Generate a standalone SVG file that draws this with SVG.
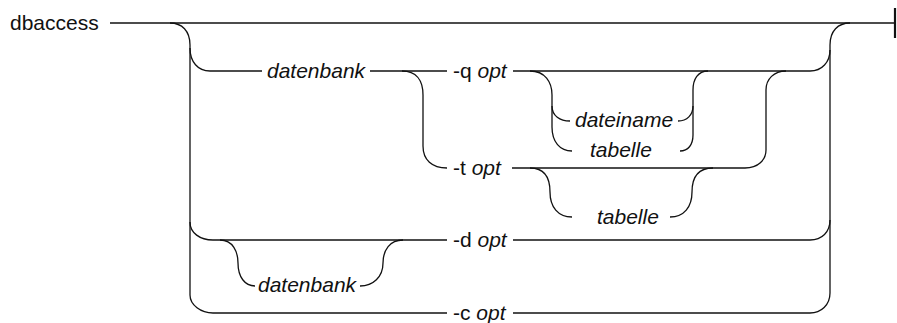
<svg xmlns="http://www.w3.org/2000/svg" width="897" height="323" viewBox="0 0 897 323">
  <style>
    .rail { fill: none; stroke: #111; stroke-width: 1.3; stroke-linecap: butt; }
    .end { fill: none; stroke: #111; stroke-width: 2.2; }
    .t { font-family: "Liberation Sans", Arial, Helvetica, sans-serif; font-size: 21px; fill: #111; }
    .i { font-style: italic; }
  </style>
  <rect width="897" height="323" fill="#fff"/>

  <!-- rails of the syntax diagram -->
  <g id="connectors">
    <!-- main line and end marker -->
    <path class="rail" d="M110,23 H895"/>
    <path class="end" d="M895,8 V38"/>

    <!-- outer left branch -->
    <path class="rail" d="M170,23 C182,23 190,31 190,45 V295 C190,305 201,313 213,313"/>
    <path class="rail" d="M190,48 C190,62 198,71 210,71"/>
    <path class="rail" d="M190,222 C190,233 200,240 213,240"/>

    <!-- outer right join -->
    <path class="rail" d="M850,23 C838,23 830,31 830,45 V293 C830,305 821,313 810,313"/>
    <path class="rail" d="M810,71 C822,71 830,62 830,50"/>
    <path class="rail" d="M810,240 C822,240 830,232 830,220"/>

    <!-- row: datenbank -q opt -->
    <path class="rail" d="M210,71 H262"/>
    <path class="rail" d="M370,71 H447"/>
    <path class="rail" d="M513,71 H810"/>

    <!-- branch to -t opt -->
    <path class="rail" d="M402,71 C416,71 423,80 423,95 V146 C423,160 432,168 447,168"/>
    <path class="rail" d="M512,168 H745"/>
    <path class="rail" d="M745,168 C758,168 766,160 766,150 V90 C766,79 774,71 786,71"/>

    <!-- optional dateiname / tabelle after -q opt -->
    <path class="rail" d="M530,71 C545,71 552,82 552,95 V127 C552,142 560,151 572,151"/>
    <path class="rail" d="M552,106 C552,116 560,121 570,121"/>
    <path class="rail" d="M708,71 C698,71 693,79 693,90 V135 C693,145 688,151 680,151"/>
    <path class="rail" d="M678,121 C687,121 693,115 693,106"/>

    <!-- optional tabelle after -t opt -->
    <path class="rail" d="M530,168 C545,168 550,178 550,192 C550,207 558,217 572,217"/>
    <path class="rail" d="M670,217 C684,217 692,207 692,192 C692,178 698,168 713,168"/>

    <!-- row: -d opt -->
    <path class="rail" d="M213,240 H447"/>
    <path class="rail" d="M513,240 H810"/>
    <path class="rail" d="M220,240 C233,240 238,252 238,263 C238,277 245,286 255,286"/>
    <path class="rail" d="M360,286 C373,286 383,277 383,263 C383,250 390,240 403,240"/>

    <!-- row: -c opt -->
    <path class="rail" d="M213,313 H447"/>
    <path class="rail" d="M513,313 H810"/>
  </g>

  <g id="dbaccess"><text class="t" x="10" y="30">dbaccess</text></g>
  <g id="datenbank-1"><text class="t i" x="267" y="78">datenbank</text></g>
  <g id="q-opt"><text class="t" x="453" y="78">-q <tspan class="i">opt</tspan></text></g>
  <g id="dateiname"><text class="t i" x="575" y="127">dateiname</text></g>
  <g id="tabelle-1"><text class="t i" x="590" y="157">tabelle</text></g>
  <g id="t-opt"><text class="t" x="453" y="175">-t <tspan class="i">opt</tspan></text></g>
  <g id="tabelle-2"><text class="t i" x="597" y="224">tabelle</text></g>
  <g id="d-opt"><text class="t" x="453" y="247">-d <tspan class="i">opt</tspan></text></g>
  <g id="datenbank-2"><text class="t i" x="258" y="292">datenbank</text></g>
  <g id="c-opt"><text class="t" x="453" y="320">-c <tspan class="i">opt</tspan></text></g>
</svg>
